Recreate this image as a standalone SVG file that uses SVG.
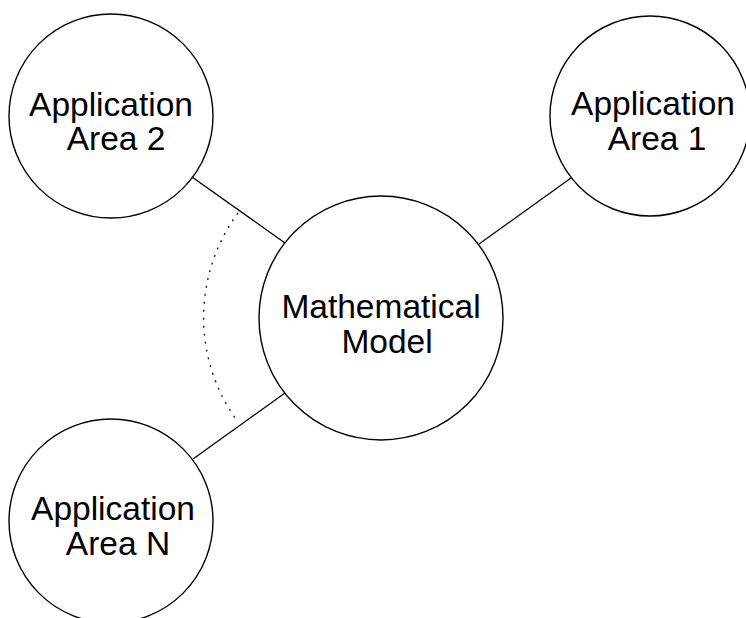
<svg xmlns="http://www.w3.org/2000/svg" width="746" height="618" viewBox="0 0 746 618">
<style>
.node{fill:#fff;stroke:#000;stroke-width:1.4}
.lbl{font-family:"Liberation Sans",Arial,sans-serif;font-size:33.5px;fill:#000;text-anchor:middle}
.edge{stroke:#000;stroke-width:1.3;fill:none}
.dots{stroke:#222;stroke-width:1.4;fill:none;stroke-dasharray:2 6}
</style>
<rect width="746" height="618" fill="#fff"/>
<g id="connectors">
<line class="edge" x1="192" y1="177" x2="285" y2="243"/>
<line class="edge" x1="479" y1="244" x2="571" y2="178"/>
<line class="edge" x1="285" y1="393" x2="193" y2="459"/>
<path class="dots" d="M238,213 A176,176 0 0 0 238,422"/>
</g>
<g id="app2">
<circle class="node" cx="111" cy="116" r="102"/>
<text class="lbl" x="111" y="116">Application</text>
<text class="lbl" x="116" y="150">Area 2</text>
</g>
<g id="app1">
<circle class="node" cx="650" cy="116" r="100"/>
<text class="lbl" x="653" y="115">Application</text>
<text class="lbl" x="657" y="150">Area 1</text>
</g>
<g id="model">
<circle class="node" cx="381" cy="318" r="122"/>
<text class="lbl" x="381" y="318">Mathematical</text>
<text class="lbl" x="387" y="353">Model</text>
</g>
<g id="appN">
<circle class="node" cx="111" cy="521" r="102"/>
<text class="lbl" x="113" y="520">Application</text>
<text class="lbl" x="118" y="555">Area N</text>
</g>
</svg>
